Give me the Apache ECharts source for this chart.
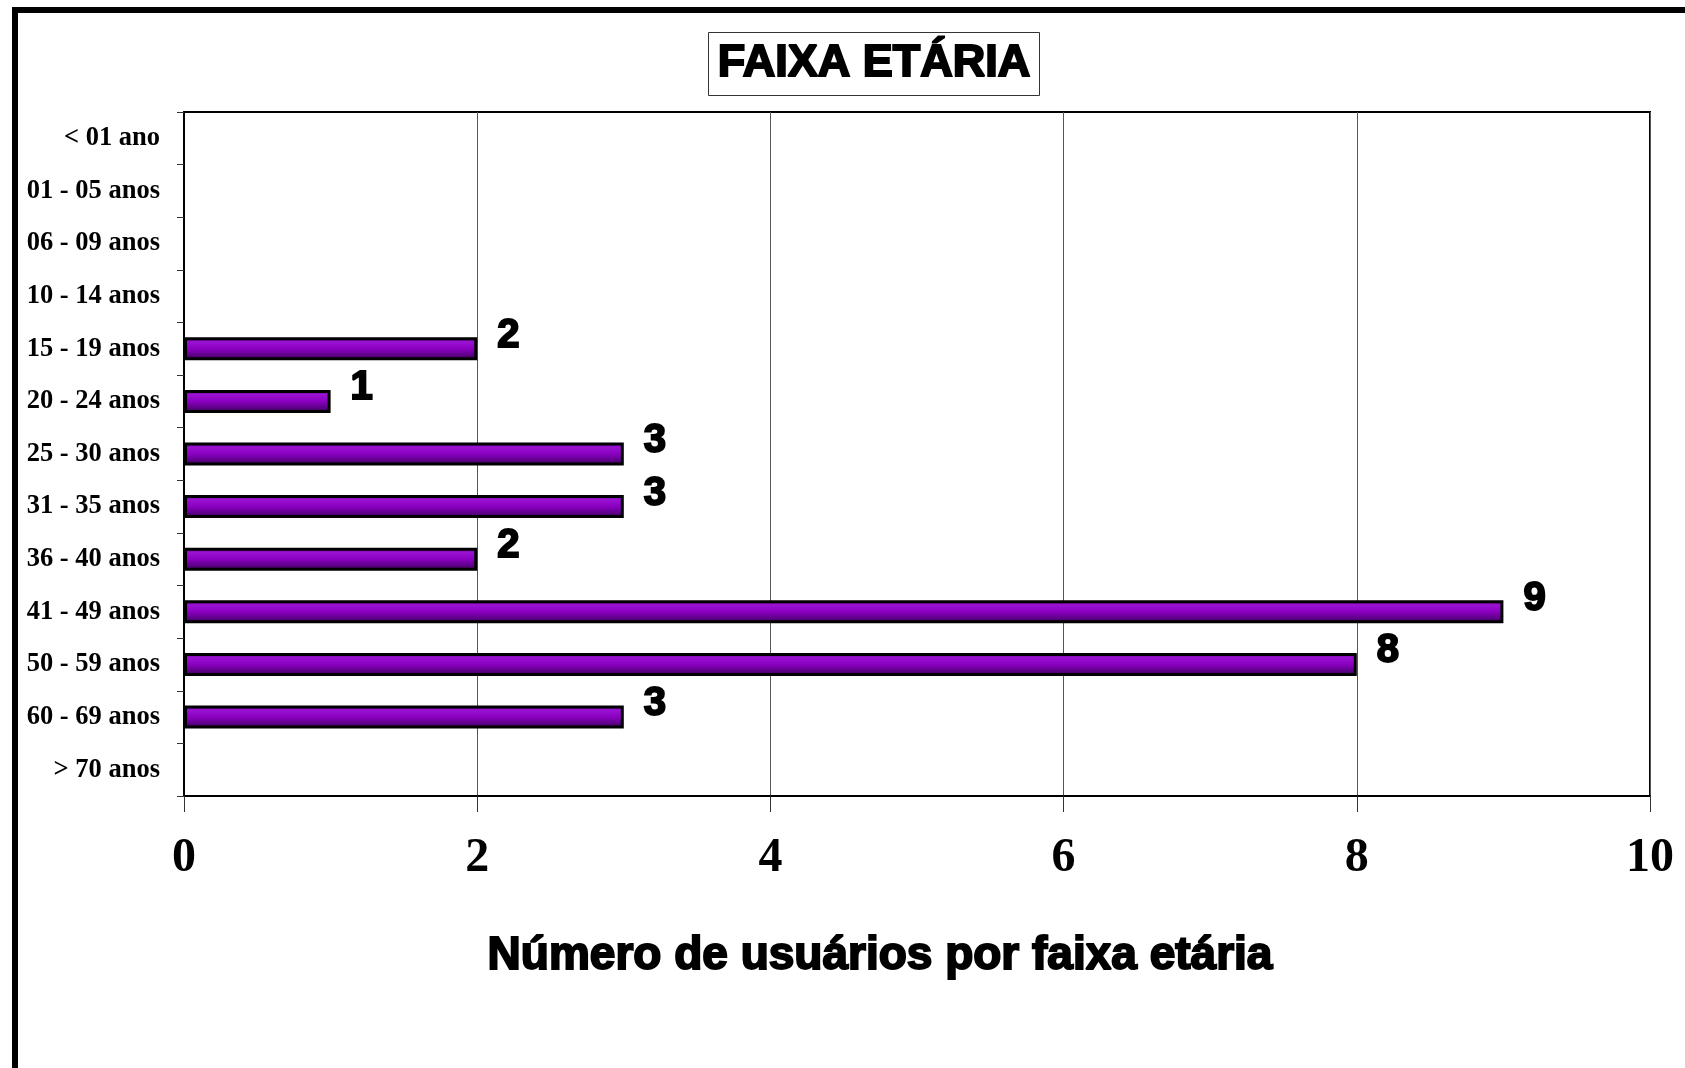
<!DOCTYPE html>
<html>
<head>
<meta charset="utf-8">
<script src="https://cdn.jsdelivr.net/npm/echarts@6/dist/echarts.min.js"></script>
<style>
html,body{margin:0;padding:0;background:#fff;}
#chart{width:1685px;height:1068px;}
</style>
</head>
<body>
<div id="chart"></div>
<script>
const categories = ['< 01 ano','01 - 05 anos','06 - 09 anos','10 - 14 anos','15 - 19 anos','20 - 24 anos','25 - 30 anos','31 - 35 anos','36 - 40 anos','41 - 49 anos','50 - 59 anos','60 - 69 anos','> 70 anos'];
const usuarios = [0,0,0,0,2,1,3,3,2,9,8,3,0];
const xTicks = [0,2,4,6,8,10];
const titleText = 'FAIXA ETÁRIA';
const axisTitle = 'Número de usuários por faixa etária';

const chart = echarts.init(document.getElementById('chart'), null, {renderer:'canvas'});
const heavy = {fontFamily:'Liberation Sans, Arial, sans-serif', fontWeight:'bold', color:'#000', textBorderColor:'#000', textBorderWidth:2};

chart.setOption({
  backgroundColor:'#fff',
  animation:false,
  graphic:[{
    type:'rect', silent:true,
    shape:{x:15, y:10, width:1800, height:1200},
    style:{fill:'none', stroke:'#000', lineWidth:6}
  }],
  title:[{
    text:titleText,
    left:866, top:32, textAlign:'center',
    borderColor:'#333', borderWidth:1,
    padding:[8,8,8,8],
    textStyle:Object.assign({fontSize:45, lineHeight:48}, heavy)
  },{
    text:axisTitle,
    left:880, top:930, textAlign:'center',
    padding:0,
    textStyle:Object.assign({fontSize:46, lineHeight:52}, heavy)
  }],
  grid:{left:184, right:35, top:112, bottom:272, show:true, borderColor:'#000', borderWidth:2, backgroundColor:'transparent'},
  xAxis:{
    type:'value', min:0, max:10, interval:2,
    axisLine:{show:true, lineStyle:{color:'#000', width:2}},
    axisTick:{show:true, length:16, lineStyle:{color:'#333', width:1}},
    axisLabel:{margin:39, fontFamily:'Liberation Serif, Times New Roman, serif', fontWeight:'bold', fontSize:48, color:'#000',
      formatter:v => xTicks.includes(v) ? String(v) : ''},
    splitLine:{show:true, lineStyle:{color:'#555', width:1}}
  },
  yAxis:{
    type:'category', data:categories, inverse:true,
    axisLine:{show:true, lineStyle:{color:'#000', width:2}},
    axisTick:{show:true, length:7, inside:false, lineStyle:{color:'#333', width:1}},
    axisLabel:{margin:24, padding:[4,0,0,0], fontFamily:'Liberation Serif, Times New Roman, serif', fontWeight:'bold', fontSize:26.5, color:'#000'},
    splitLine:{show:false}
  },
  series:[{
    type:'bar',
    data:usuarios.map(v => v === 0 ? '-' : v),
    barWidth:23,
    itemStyle:{
      borderColor:'#000', borderWidth:3,
      color:new echarts.graphic.LinearGradient(0,0,0,1,[
        {offset:0,color:'#5e0088'},
        {offset:0.2,color:'#9a12d2'},
        {offset:0.5,color:'#8a00c0'},
        {offset:0.75,color:'#62008e'},
        {offset:1,color:'#38004e'}
      ])
    },
    label:Object.assign({show:true, position:'right', distance:20, offset:[0,-13], fontSize:40,
      formatter:p => (p.value === '-' || !p.value) ? '' : String(p.value)}, heavy)
  }]
});
</script>
</body>
</html>
